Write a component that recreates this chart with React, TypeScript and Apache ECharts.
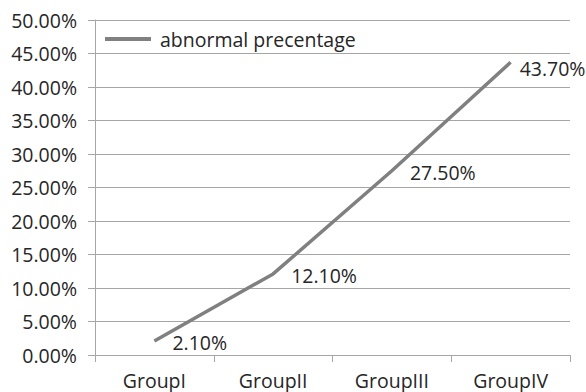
import React, { useEffect, useRef } from "react";
import * as echarts from "echarts";

const categories = ["GroupI", "GroupII", "GroupIII", "GroupIV"];
const abnormalValues = [0.021, 0.121, 0.275, 0.437];
const seriesName = "abnormal precentage";

const FONT = "'Open Sans', 'Noto Sans', sans-serif";
const FS = 19.5;
const TEXT = "#262626";
const GRID = "#a6a6a6";

export default function App() {
  const ref = useRef<HTMLDivElement>(null);
  useEffect(() => {
    if (!ref.current) return;
    const chart = echarts.init(ref.current, undefined, { renderer: "svg" });
    const data = abnormalValues.map((v, i) =>
      i === abnormalValues.length - 1
        ? { value: v, label: { distance: 9, offset: [0, 6] } }
        : { value: v }
    );
    chart.setOption({
      animation: false,
      backgroundColor: "#ffffff",
      textStyle: { fontFamily: FONT },
      grid: { left: 95, right: 16, top: 20, bottom: 37, containLabel: false },
      legend: {
        show: true,
        left: 100,
        top: 24,
        itemWidth: 46,
        itemHeight: 4,
        itemGap: 10,
        icon: "rect",
        data: [{ name: seriesName }],
        textStyle: { fontFamily: FONT, fontSize: FS, color: TEXT, padding: [0, 0, 0, 4] },
      },
      xAxis: {
        type: "category",
        data: categories,
        boundaryGap: true,
        axisLine: { show: true, lineStyle: { color: GRID, width: 1 } },
        axisTick: { show: true, length: 7, lineStyle: { color: GRID } },
        axisLabel: {
          fontFamily: FONT,
          fontSize: FS,
          lineHeight: 20,
          color: TEXT,
          margin: 15,
        },
        splitLine: { show: false },
      },
      yAxis: {
        type: "value",
        min: 0,
        max: 0.5,
        interval: 0.05,
        axisLine: { show: true, lineStyle: { color: GRID, width: 1 } },
        axisTick: { show: true, length: 7, lineStyle: { color: GRID } },
        axisLabel: {
          fontFamily: FONT,
          fontSize: FS,
          color: TEXT,
          margin: 18,
          formatter: (v: number) => (v * 100).toFixed(2) + "%",
        },
        splitLine: { show: true, lineStyle: { color: GRID, width: 1 } },
      },
      series: [
        {
          name: seriesName,
          type: "line",
          data,
          showSymbol: true,
          symbol: "circle",
          symbolSize: 0,
          lineStyle: { color: "#808080", width: 3.5 },
          itemStyle: { color: "#808080" },
          label: {
            show: true,
            position: "right",
            distance: 18,
            offset: [0, 2],
            fontFamily: FONT,
            fontSize: FS,
            color: TEXT,
            formatter: (p: any) => (p.value * 100).toFixed(2) + "%",
          },
        },
      ],
    });
    return () => chart.dispose();
  }, []);
  return (
    <div
      ref={ref}
      style={{ width: 586, height: 392, position: "absolute", left: 0, top: 0 }}
    />
  );
}
